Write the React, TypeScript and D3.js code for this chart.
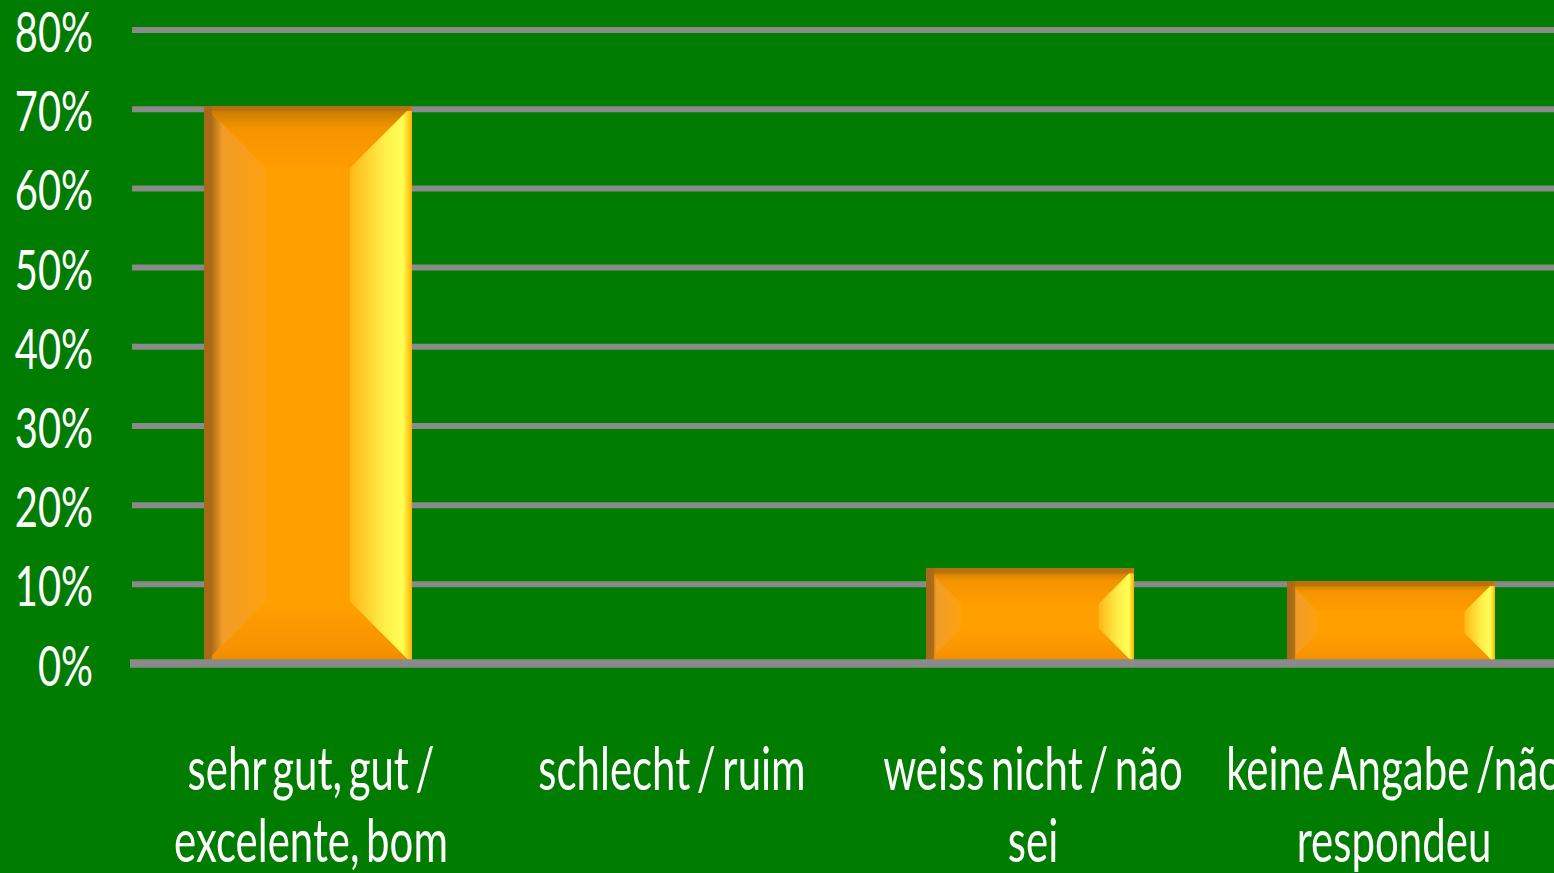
import React, { useEffect } from "react";
import * as d3 from "d3";

const categories: string[][] = [
  ["sehr gut, gut /", "excelente, bom"],
  ["schlecht / ruim"],
  ["weiss nicht / não", "sei"],
  ["keine Angabe /não", "respondeu"],
];
const values: number[] = [70.4, 0, 12.0, 10.4];
const yTicks: number[] = [0, 10, 20, 30, 40, 50, 60, 70, 80];

const W = 1554;
const H = 873;
const BG = "#007c00";
const GRID = "#8a8a8a";
const SX = 0.7;

export default function App() {
  useEffect(() => {
    document.body.style.margin = "0";
    document.body.style.overflow = "hidden";
  }, []);

  const keys = categories.map((c) => c.join(" "));
  const x = d3
    .scaleBand<string>()
    .domain(keys)
    .range([127.5, 127.5 + 4 * 361])
    .paddingInner(0.424)
    .paddingOuter(0.212);
  const y = d3.scaleLinear().domain([0, 80]).range([663.5, 30]);
  const bw = x.bandwidth();

  return (
    <svg width={W} height={H} style={{ display: "block" }}>
      <defs>
        <linearGradient id="gRight" x1="0" y1="0" x2="1" y2="0">
          <stop offset="0" stopColor="#ffb818" />
          <stop offset="0.55" stopColor="#ffee48" />
          <stop offset="0.85" stopColor="#ffff55" />
          <stop offset="1" stopColor="#ffb000" />
        </linearGradient>
        <linearGradient id="gLeft" x1="0" y1="0" x2="1" y2="0">
          <stop offset="0" stopColor="#a86818" />
          <stop offset="0.15" stopColor="#b87418" />
          <stop offset="0.3" stopColor="#f09c28" />
          <stop offset="1" stopColor="#ffa010" />
        </linearGradient>
        <linearGradient id="gTop" x1="0" y1="0" x2="0" y2="1">
          <stop offset="0" stopColor="#b87010" />
          <stop offset="0.15" stopColor="#d48400" />
          <stop offset="0.35" stopColor="#f49400" />
          <stop offset="1" stopColor="#ff9c00" />
        </linearGradient>
        <linearGradient id="gBot" x1="0" y1="0" x2="0" y2="1">
          <stop offset="0" stopColor="#ffa000" />
          <stop offset="0.8" stopColor="#f69200" />
          <stop offset="1" stopColor="#e88800" />
        </linearGradient>
      </defs>
      <rect x={0} y={0} width={W} height={H} fill={BG} />

      {yTicks
        .filter((t) => t > 0)
        .map((t) => (
          <line
            key={"g" + t}
            x1={132}
            x2={W}
            y1={y(t)}
            y2={y(t)}
            stroke={GRID}
            strokeWidth={6}
          />
        ))}

      {values.map((v, i) => {
        if (v <= 0) return null;
        const x0 = x(keys[i]) as number;
        const x1 = x0 + bw;
        const y0 = y(v);
        const y1 = y(0);
        const h = y1 - y0;
        const b = Math.min(62, h * 0.37);
        const bv = Math.min(b, h / 2);
        const p = (pts: number[][]) => pts.map((q) => q.join(",")).join(" ");
        return (
          <g key={"b" + i}>
            <rect x={x0} y={y0} width={bw} height={h} fill="#ffa000" />
            <polygon
              points={p([
                [x0, y0],
                [x1, y0],
                [x1 - b, y0 + bv],
                [x0 + b, y0 + bv],
              ])}
              fill="url(#gTop)"
            />
            <polygon
              points={p([
                [x0, y1],
                [x1, y1],
                [x1 - b, y1 - bv],
                [x0 + b, y1 - bv],
              ])}
              fill="url(#gBot)"
            />
            <polygon
              points={p([
                [x0, y0],
                [x0 + b, y0 + bv],
                [x0 + b, y1 - bv],
                [x0, y1],
              ])}
              fill="url(#gLeft)"
            />
            <polygon
              points={p([
                [x1, y0],
                [x1, y1],
                [x1 - b, y1 - bv],
                [x1 - b, y0 + bv],
              ])}
              fill="url(#gRight)"
            />
            <rect x={x0} y={y0} width={bw} height={5} fill="#b87010" opacity={0.85} />
            <rect x={x0} y={y0} width={8} height={h} fill="#a86818" opacity={0.8} />
          </g>
        );
      })}

      <line x1={130} x2={W} y1={y(0)} y2={y(0)} stroke={GRID} strokeWidth={8.5} />

      {yTicks.map((t) => (
        <text
          key={"t" + t}
          transform={`translate(93,${y(t) + 22}) scale(${SX},1)`}
          textAnchor="end"
          fill="#ffffff"
          fontFamily="Lato, 'Open Sans', sans-serif"
          fontSize={57}
        >
          {t + "%"}
        </text>
      ))}

      {categories.map((lines, i) => {
        const cx = (x(keys[i]) as number) + bw / 2 + 3;
        return lines.map((ln, j) => (
          <text
            key={"c" + i + "_" + j}
            transform={`translate(${cx},${790 + j * 72}) scale(${SX},1)`}
            textAnchor="middle"
            fill="#ffffff"
            fontFamily="Lato, 'Open Sans', sans-serif"
            fontSize={60}
            wordSpacing={-6}
          >
            {ln}
          </text>
        ));
      })}
    </svg>
  );
}
